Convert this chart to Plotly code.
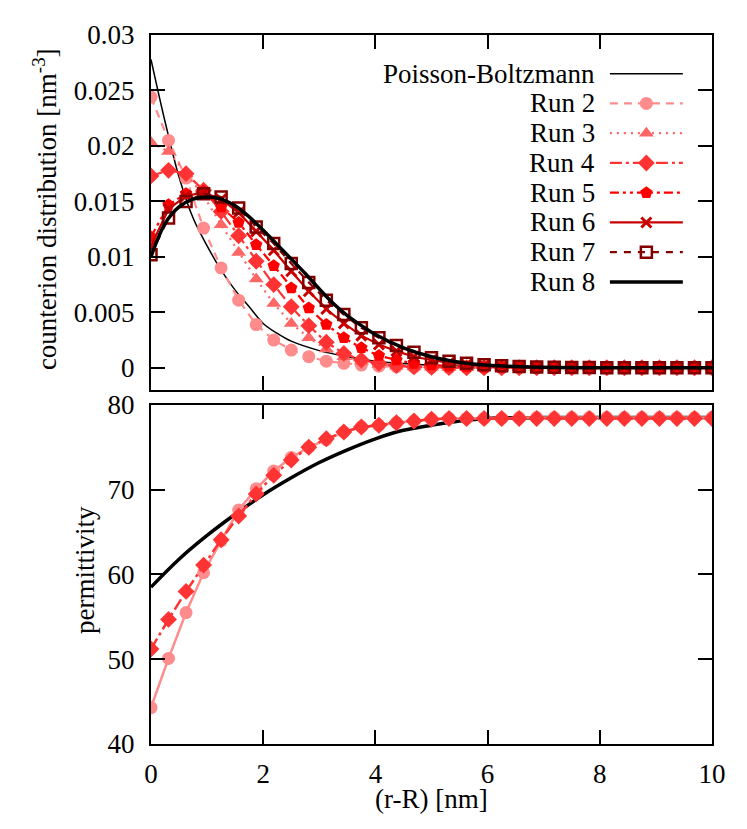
import plotly.graph_objects as go

# simulation grid (nm)
r_sim = [0, 0.3125, 0.625, 0.9375, 1.25, 1.5625, 1.875, 2.1875, 2.5, 2.8125,
         3.125, 3.4375, 3.75, 4.0625, 4.375, 4.6875, 5, 5.3125, 5.625, 5.9375,
         6.25, 6.5625, 6.875, 7.1875, 7.5, 7.8125, 8.125, 8.4375, 8.75, 9.0625,
         9.375, 9.6875, 10]

# counterion distribution [nm^-3]
run2 = [0.0244, 0.0205, 0.0171, 0.0126, 0.0090, 0.0061, 0.0039, 0.0025, 0.0016, 0.0010,
        0.0006, 0.0004, 0.00025, 0.00015, 0.0001, 0.00005, 0.00003, 0.00002, 0.00001,
        0, 0, 0, 0, 0, 0, 0, 0, 0, 0, 0, 0, 0, 0]
run3 = [0.0203, 0.0195, 0.0175, 0.0155, 0.0129, 0.0104, 0.0080, 0.0058, 0.0040, 0.0027,
        0.0017, 0.0010, 0.0006, 0.0003, 0.00015, 0.00008, 0.00004, 0.00002, 0.00001,
        0, 0, 0, 0, 0, 0, 0, 0, 0, 0, 0, 0, 0, 0]
run4 = [0.0173, 0.0178, 0.0175, 0.0160, 0.0141, 0.0119, 0.0096, 0.0075, 0.0055, 0.0038,
        0.0023, 0.0013, 0.0007, 0.0004, 0.0002, 0.0001, 0.00005, 0.00002, 0.00001,
        0, 0, 0, 0, 0, 0, 0, 0, 0, 0, 0, 0, 0, 0]
run5 = [0.0118, 0.0147, 0.0157, 0.0159, 0.0145, 0.0131, 0.0111, 0.0092, 0.0072, 0.0054,
        0.0039, 0.0027, 0.0018, 0.0011, 0.0007, 0.0004, 0.00025, 0.00015, 0.0001, 0.00006,
        0.00004, 0.00002, 0.00001, 0, 0, 0, 0, 0, 0, 0, 0, 0, 0]
run6 = [0.0110, 0.0143, 0.0155, 0.0158, 0.0152, 0.0140, 0.0123, 0.0106, 0.0087, 0.0069,
        0.0053, 0.0040, 0.0029, 0.0021, 0.0015, 0.0010, 0.0007, 0.00045, 0.0003, 0.0002,
        0.00012, 0.00008, 0.00005, 0.00003, 0.00002, 0.00001, 0, 0, 0, 0, 0, 0, 0]
run7 = [0.0102, 0.0135, 0.0150, 0.0157, 0.0154, 0.0144, 0.0127, 0.0112, 0.0094, 0.0077,
        0.0061, 0.0048, 0.0036, 0.0027, 0.0020, 0.0014, 0.0009, 0.0006, 0.0004, 0.00027,
        0.00018, 0.00012, 0.00008, 0.00005, 0.00003, 0.00002, 0.00001, 0, 0, 0, 0, 0, 0]

# smooth curves
r_pb = [0, 0.25, 0.5, 0.75, 1.0, 1.25, 1.5, 1.75, 2.0, 2.25, 2.5, 3.0, 3.5, 4.0, 4.5,
        5.0, 6.0, 7.0, 8.0, 9.0, 10.0]
pb = [0.0278, 0.0222, 0.0172, 0.0135, 0.0110, 0.0088, 0.0070, 0.0055, 0.0040, 0.0031,
      0.0024, 0.00155, 0.0010, 0.0006, 0.00038, 0.00022, 0.00008, 0.00003, 0.00001, 0, 0]
r_run8 = [0, 0.25, 0.5, 0.75, 1.0, 1.25, 1.5, 1.75, 2.0, 2.25, 2.5, 2.75, 3.0, 3.25,
          3.5, 3.75, 4.0, 4.5, 5.0, 5.5, 6.0, 7.0, 8.0, 9.0, 10.0]
run8 = [0.0100, 0.0130, 0.0145, 0.0152, 0.0154, 0.0152, 0.0146, 0.0136, 0.0124, 0.0111,
        0.0098, 0.0085, 0.0071, 0.0058, 0.0047, 0.0038, 0.0030, 0.0018, 0.0010, 0.0005,
        0.00022, 0.00005, 0.00001, 0, 0]

# permittivity
eps_run2 = [44.3, 50.1, 55.5, 60.2, 64.0, 67.6, 70.1, 72.2, 73.8, 75.0, 75.9, 76.8, 77.4,
            77.6, 77.9, 78.1, 78.3, 78.4, 78.4, 78.4, 78.4, 78.5, 78.5, 78.5, 78.5, 78.5,
            78.5, 78.5, 78.5, 78.5, 78.5, 78.5, 78.5]
eps_run4 = [51.2, 54.7, 58.0, 61.1, 64.1, 66.9, 69.5, 71.7, 73.5, 75.0, 76.0, 76.8, 77.4,
            77.6, 77.9, 78.1, 78.3, 78.4, 78.4, 78.4, 78.4, 78.4, 78.4, 78.4, 78.4, 78.4,
            78.4, 78.4, 78.4, 78.4, 78.4, 78.4, 78.4]
r_eps8 = [0, 0.5, 1.0, 1.5, 2.0, 2.5, 3.0, 3.5, 4.0, 4.5, 5.0, 5.5, 6.0, 7.0, 8.0, 10.0]
eps_run8 = [58.5, 61.8, 64.6, 67.1, 69.4, 71.4, 73.2, 74.7, 76.0, 77.0, 77.6, 78.1, 78.4,
            78.5, 78.5, 78.5]

cd_ticks = [0, 0.005, 0.01, 0.015, 0.02, 0.025, 0.03]
cd_labels = ["0", "0.005", "0.01", "0.015", "0.02", "0.025", "0.03"]

FONT = "Liberation Serif, Times New Roman, serif"
FS = 27

# name, data, colour, dash, marker symbol
runs = [
    ("Run 2", run2, "#ff8c8c", "8px,6px", "circle"),
    ("Run 3", run3, "#ff6666", "2px,5px", "triangle-up"),
    ("Run 4", run4, "#ff3333", "12px,4px,3px,4px", "diamond"),
    ("Run 5", run5, "#ff0000", "9px,4px,3px,4px,3px,4px", "pentagon"),
    ("Run 6", run6, "#c80000", "solid", "x-thin-open"),
    ("Run 7", run7, "#840000", "7px,7px", "square-open"),
]

def marker_for(sym, col):
    if sym == "x-thin-open":
        return dict(symbol=sym, size=10, color=col, line=dict(color=col, width=3))
    if sym == "square-open":
        return dict(symbol=sym, size=11, color=col, line=dict(color=col, width=2.5))
    return dict(symbol=sym, size=13, color=col, line=dict(width=0))

fig = go.Figure()

# top panel
fig.add_trace(go.Scatter(x=r_pb, y=pb, mode="lines", line=dict(color="black", width=1.5, shape="spline"),
                         xaxis="x2", yaxis="y2", showlegend=False))
for name, vals, col, dash, sym in runs:
    fig.add_trace(go.Scatter(x=r_sim, y=vals, mode="lines+markers", name=name,
                             line=dict(color=col, width=2.2, dash=dash),
                             marker=marker_for(sym, col),
                             xaxis="x2", yaxis="y2", showlegend=False))
fig.add_trace(go.Scatter(x=r_run8, y=run8, mode="lines", line=dict(color="black", width=3.5, shape="spline"),
                         xaxis="x2", yaxis="y2", showlegend=False))

# bottom panel
fig.add_trace(go.Scatter(x=r_eps8, y=eps_run8, mode="lines", line=dict(color="black", width=3.5, shape="spline"),
                         xaxis="x", yaxis="y", showlegend=False))
fig.add_trace(go.Scatter(x=r_sim, y=eps_run2, mode="lines+markers", line=dict(color="#ff8c8c", width=2.5),
                         marker=dict(symbol="circle", size=13, color="#ff8c8c"),
                         xaxis="x", yaxis="y", showlegend=False))
fig.add_trace(go.Scatter(x=r_sim, y=eps_run4, mode="lines+markers",
                         line=dict(color="#ff3333", width=2.5, dash="12px,4px,3px,4px"),
                         marker=dict(symbol="diamond", size=13, color="#ff3333"),
                         xaxis="x", yaxis="y", showlegend=False))

# gnuplot-style key: text on the left, sample on the right
key = [("Poisson-Boltzmann", "black", "solid", None, 1.5)] + \
      [(n, c, d, s, 2.2) for n, _, c, d, s in runs] + [("Run 8", "black", "solid", None, 3.5)]
row_top, row_step = 0.891, 0.0838
annotations = []
for k, (name, col, dash, sym, w) in enumerate(key):
    yk = row_top - k * row_step
    fig.add_trace(go.Scatter(x=[0.818, 0.948], y=[yk, yk], mode="lines",
                             line=dict(color=col, width=w, dash=dash),
                             xaxis="x3", yaxis="y3", showlegend=False, hoverinfo="skip"))
    if sym:
        fig.add_trace(go.Scatter(x=[0.883], y=[yk], mode="markers", marker=marker_for(sym, col),
                                 xaxis="x3", yaxis="y3", showlegend=False, hoverinfo="skip"))
    annotations.append(dict(x=0.795, y=yk, xref="x3", yref="y3", text=name, showarrow=False,
                            xanchor="right", yanchor="middle", font=dict(family=FONT, size=FS, color="black")))

annotations += [
    dict(x=-0.19, y=0.755, xref="paper", yref="paper", text="counterion distribution [nm<sup>-3</sup>]",
         textangle=-90, showarrow=False, xanchor="center", yanchor="middle",
         font=dict(family=FONT, size=FS, color="black")),
    dict(x=-0.118, y=0.245, xref="paper", yref="paper", text="permittivity",
         textangle=-90, showarrow=False, xanchor="center", yanchor="middle",
         font=dict(family=FONT, size=FS, color="black")),
    dict(x=0.5, y=-0.078, xref="paper", yref="paper", text="(r-R) [nm]",
         showarrow=False, xanchor="center", yanchor="middle", font=dict(family=FONT, size=FS, color="black")),
]

axis_style = dict(showline=True, linecolor="black", linewidth=2, mirror="ticks", ticks="inside",
                  ticklen=14, tickwidth=1.5, tickcolor="black", showgrid=False, zeroline=False,
                  tickfont=dict(family=FONT, size=FS, color="black"))

# the page body adds 8px on the left and top, so the margins are shifted to compensate
fig.update_layout(
    width=747, height=829,
    margin=dict(l=143, r=43, t=21, b=93),
    paper_bgcolor="white", plot_bgcolor="white",
    font=dict(family=FONT, size=FS, color="black"),
    xaxis=dict(domain=[0, 1], anchor="y", range=[0, 10], tickvals=[0, 2, 4, 6, 8, 10],
               ticklabelstandoff=5, **axis_style),
    yaxis=dict(domain=[0, 0.4783], anchor="x", range=[40, 80], tickvals=[40, 50, 60, 70, 80],
               ticklabelstandoff=9, **axis_style),
    xaxis2=dict(domain=[0, 1], anchor="y2", range=[0, 10], tickvals=[0, 2, 4, 6, 8, 10],
                showticklabels=False, **axis_style),
    yaxis2=dict(domain=[0.4993, 1], anchor="x2", range=[-0.002, 0.03], tickvals=cd_ticks,
                ticktext=cd_labels, ticklabelstandoff=9, **axis_style),
    xaxis3=dict(overlaying="x2", anchor="y3", range=[0, 1], visible=False),
    yaxis3=dict(overlaying="y2", anchor="x3", range=[0, 1], visible=False),
    annotations=annotations,
    showlegend=False,
)

fig.write_html("out.html")
